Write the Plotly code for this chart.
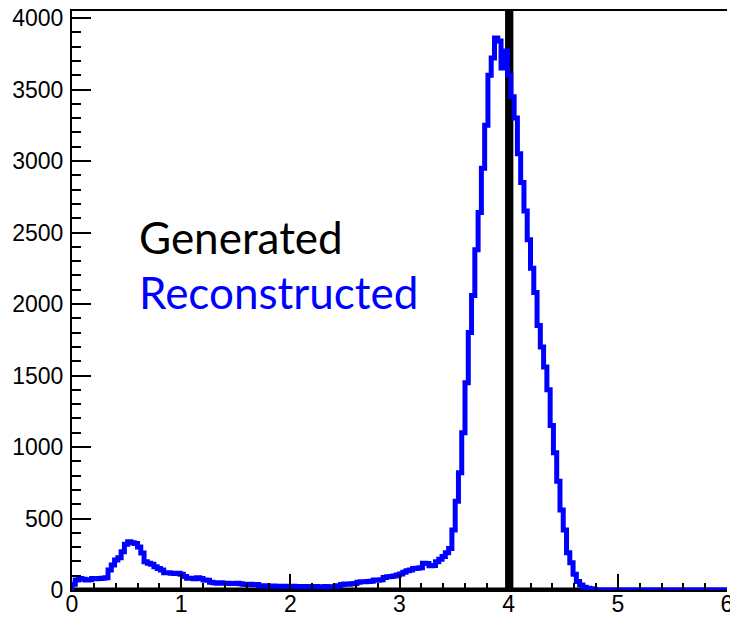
import numpy as np
import plotly.graph_objects as go

# Histogram binning (200 bins from 0 to 6)
x_min, x_max, n_bins = 0.0, 6.0, 200

# Reconstructed counts per bin
reco_counts = [
    # 0.00 - 1.20
    40, 70, 80, 75, 70, 72, 80, 78, 80, 82,
    85, 140, 175, 210, 225, 268, 320, 338, 330, 325,
    300, 258, 198, 187, 180, 163, 150, 140, 121, 120,
    118, 115, 117, 110, 95, 82, 82, 78, 85, 80,
    # 1.20 - 2.40
    70, 68, 55, 50, 48, 50, 47, 48, 46, 45,
    47, 44, 40, 38, 40, 37, 38, 30, 28, 30,
    27, 28, 26, 27, 25, 27, 25, 26, 24, 25,
    23, 25, 24, 22, 24, 23, 22, 24, 23, 22,
    # 2.40 - 3.60
    24, 30, 38, 42, 40, 44, 45, 55, 58, 57,
    60, 62, 70, 68, 72, 88, 92, 95, 98, 105,
    112, 125, 135, 140, 150, 152, 155, 187, 185, 170,
    172, 198, 215, 235, 260, 290, 420, 620, 820, 1100,
    # 3.60 - 4.80
    1450, 1800, 2060, 2380, 2640, 2950, 3250, 3600, 3720, 3860,
    3840, 3650, 3770, 3600, 3450, 3300, 3050, 2850, 2650, 2450,
    2250, 2080, 1850, 1700, 1560, 1400, 1150, 960, 760, 560,
    420, 260, 190, 110, 60, 35, 20, 12, 8, 3,
    # 4.80 - 6.00
    0, 0, 0, 0, 0, 0, 0, 0, 0, 0,
    0, 0, 0, 0, 0, 0, 0, 0, 0, 0,
    0, 0, 0, 0, 0, 0, 0, 0, 0, 0,
    0, 0, 0, 0, 0, 0, 0, 0, 0, 0,
]

# Generated: all entries in the bin containing 4.0 (off scale)
gen_value = 4.0
gen_entries = 100000

y_range = [0, 4049]
x_ticks = [0, 1, 2, 3, 4, 5, 6]
y_ticks = [0, 500, 1000, 1500, 2000, 2500, 3000, 3500, 4000]

edges = np.linspace(x_min, x_max, n_bins + 1)
gen_counts = np.zeros(n_bins)
gen_counts[np.searchsorted(edges, gen_value, side="right") - 1] = gen_entries


def hist_path(counts):
    xs = np.concatenate([[edges[0]], edges[:-1], [edges[-1]]])
    ys = np.concatenate([[0], counts, [counts[-1]]])
    return xs, ys


fig = go.Figure()
gx, gy = hist_path(gen_counts)
fig.add_trace(go.Scatter(x=gx, y=gy, mode="lines", line=dict(color="black", width=5, shape="hv"),
                         hoverinfo="skip", showlegend=False))
rx, ry = hist_path(np.array(reco_counts, dtype=float))
fig.add_trace(go.Scatter(x=rx, y=ry, mode="lines", line=dict(color="#0000ff", width=5, shape="hv"),
                         hoverinfo="skip", showlegend=False))

tick_font = dict(family="Liberation Sans, Arial, sans-serif", size=23, color="black")

fig.update_layout(
    width=730, height=617,
    margin=dict(l=72, r=3, t=11, b=27),
    paper_bgcolor="white", plot_bgcolor="white",
    xaxis=dict(range=[x_min, x_max], tickvals=x_ticks, ticks="inside", ticklen=16, tickwidth=2,
               tickcolor="black", showline=True, linecolor="black", linewidth=2, mirror=True,
               showgrid=False, zeroline=False, tickfont=tick_font, automargin=False,
               ticklabelstandoff=-8, ticklabeloverflow="allow",
               minor=dict(dtick=0.2, ticks="inside", ticklen=7, tickwidth=2, tickcolor="black", showgrid=False)),
    yaxis=dict(range=y_range, tickvals=y_ticks, ticks="inside", ticklen=19, tickwidth=2,
               tickcolor="black", showline=True, linecolor="black", linewidth=2,
               showgrid=False, zeroline=False, tickfont=tick_font, automargin=False,
               ticklabelstandoff=2, ticklabeloverflow="allow",
               minor=dict(dtick=100, ticks="inside", ticklen=9, tickwidth=2, tickcolor="black", showgrid=False)),
    annotations=[
        dict(x=0.596, y=2468, xref="x", yref="y", text="Generated", showarrow=False,
             xanchor="left", yanchor="middle", font=dict(family="Lato, sans-serif", size=44, color="black")),
        dict(x=0.596, y=2083, xref="x", yref="y", text="Reconstructed", showarrow=False,
             xanchor="left", yanchor="middle", font=dict(family="Lato, sans-serif", size=44, color="#0000ff")),
    ],
)

fig.write_html("out.html")
